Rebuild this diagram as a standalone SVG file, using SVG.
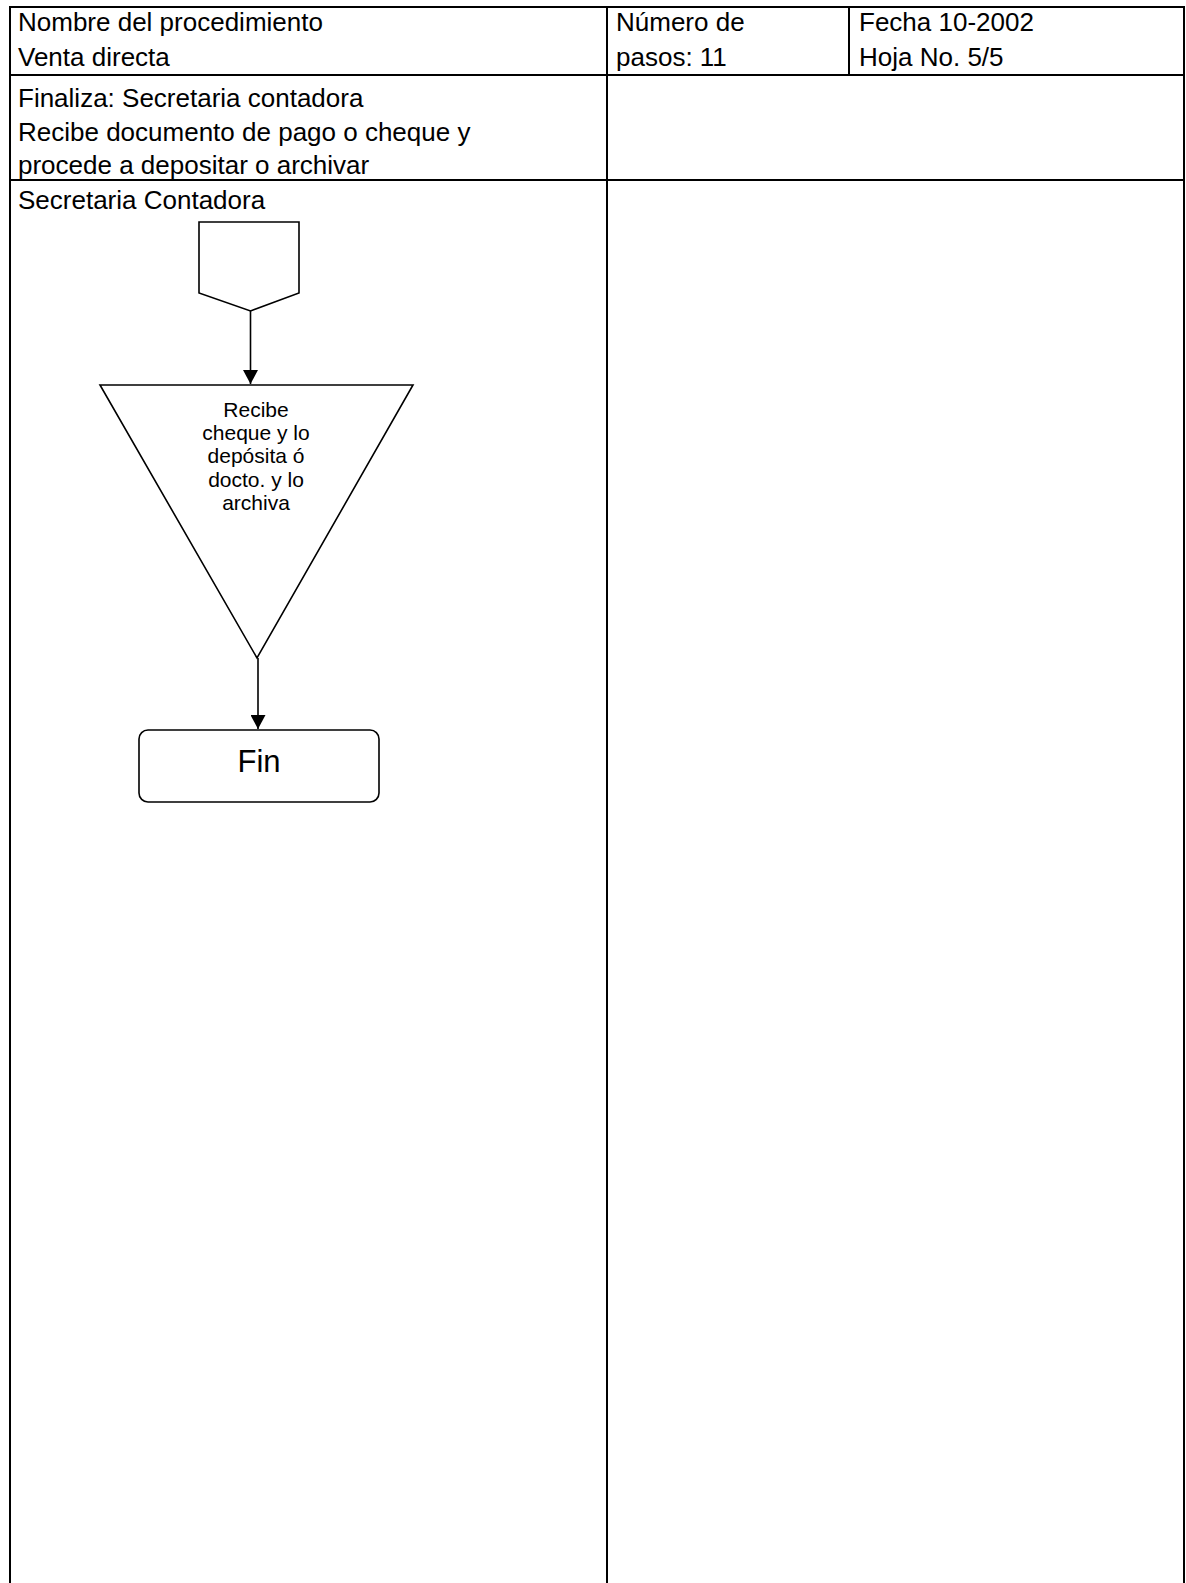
<svg xmlns="http://www.w3.org/2000/svg" width="1186" height="1583" viewBox="0 0 1186 1583">
<defs>
<style>
.grid{stroke:#000;stroke-width:2;fill:none}
.shape{stroke:#000;stroke-width:1.6;fill:#fff}
.conn{stroke:#000;stroke-width:1.6;fill:none}
.t{font-family:"Liberation Sans",Arial,sans-serif;font-size:26px;fill:#000}
.s{font-family:"Liberation Sans",Arial,sans-serif;font-size:21px;fill:#000;text-anchor:middle}
.fin{font-family:"Liberation Sans",Arial,sans-serif;font-size:31px;fill:#000;text-anchor:middle}
</style>
<marker id="arr" markerWidth="14" markerHeight="15" refX="14" refY="7.5" orient="auto" markerUnits="userSpaceOnUse">
<path d="M0,0 L14,7.5 L0,15 z" fill="#000"/>
</marker>
</defs>
<rect width="1186" height="1583" fill="#fff"/>
<g id="table">
<path class="grid" d="M10,1583 V7 H1184 V1583 M607,7 V1583 M849,7 V75 M10,75 H1184 M10,180 H1184"/>
<text class="t" x="18" y="31">Nombre del procedimiento</text>
<text class="t" x="18" y="66">Venta directa</text>
<text class="t" x="616" y="31">Número de</text>
<text class="t" x="616" y="66">pasos: 11</text>
<text class="t" x="859" y="31">Fecha 10-2002</text>
<text class="t" x="859" y="66">Hoja No. 5/5</text>
<text class="t" x="18" y="107">Finaliza: Secretaria contadora</text>
<text class="t" x="18" y="141">Recibe documento de pago o cheque y</text>
<text class="t" x="18" y="174">procede a depositar o archivar</text>
<text class="t" x="18" y="209">Secretaria Contadora</text>
</g>
<g id="connectors">
<line class="conn" x1="250.5" y1="311" x2="250.5" y2="384" marker-end="url(#arr)"/>
<line class="conn" x1="258" y1="658" x2="258" y2="729" marker-end="url(#arr)"/>
</g>
<g id="offpage">
<polygon class="shape" points="199,222 299,222 299,293 250.5,311 199,293"/>
</g>
<g id="step">
<polygon class="shape" points="100,385 413,385 257,658"/>
<text class="s" x="256" y="417">Recibe</text>
<text class="s" x="256" y="440">cheque y lo</text>
<text class="s" x="256" y="463">depósita ó</text>
<text class="s" x="256" y="487">docto. y lo</text>
<text class="s" x="256" y="510">archiva</text>
</g>
<g id="fin">
<rect class="shape" x="139" y="730" width="240" height="72" rx="9"/>
<text class="fin" x="259" y="772">Fin</text>
</g>
</svg>
